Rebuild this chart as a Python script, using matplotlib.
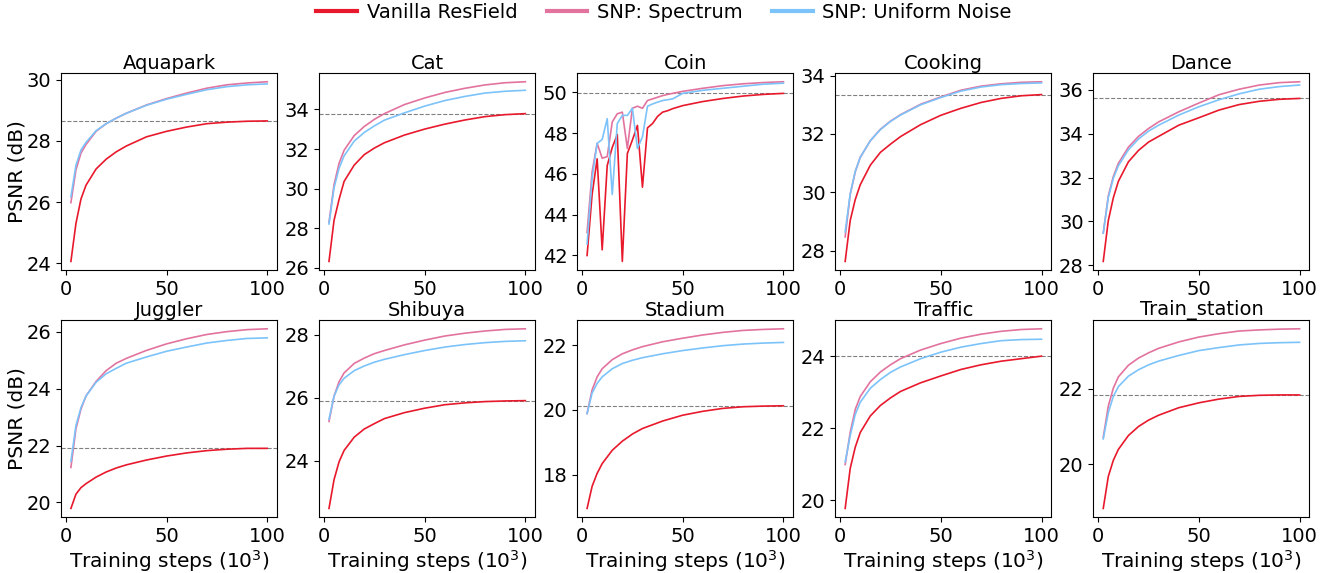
import matplotlib
matplotlib.use("Agg")
import matplotlib.pyplot as plt
from matplotlib.lines import Line2D

############
# Data (PSNR in dB)

steps = [2.5, 5, 7.5, 10, 15, 20, 25, 30, 40, 50, 60, 70, 80, 90, 100]
coin_steps = [2.5, 5, 7.5, 10, 12.5, 15, 17.5, 20, 22.5, 25, 27.5, 30, 32.5, 35,
              37.5, 40, 42.5, 45, 50, 60, 70, 80, 90, 100]

scenes = ["Aquapark", "Cat", "Coin", "Cooking", "Dance",
          "Juggler", "Shibuya", "Stadium", "Traffic", "Train_station"]
labels = ["Vanilla ResField", "SNP: Spectrum", "SNP: Uniform Noise"]
colors = ["#e8192c", "#e2739f", "#7cc3fa"]

aquapark_van = [24.06, 25.3, 26.1, 26.55, 27.08, 27.4, 27.64, 27.83, 28.13, 28.31, 28.45, 28.56, 28.61, 28.64, 28.65]
aquapark_spec = [25.98, 27.05, 27.6, 27.88, 28.31, 28.56, 28.74, 28.9, 29.17, 29.38, 29.56, 29.72, 29.83, 29.89, 29.93]
aquapark_unif = [26.17, 27.2, 27.7, 27.95, 28.33, 28.56, 28.74, 28.9, 29.16, 29.36, 29.52, 29.67, 29.77, 29.83, 29.86]

cat_van = [26.33, 28.4, 29.46, 30.37, 31.19, 31.72, 32.05, 32.32, 32.71, 33.01, 33.26, 33.47, 33.64, 33.74, 33.79]
cat_spec = [28.3, 30.2, 31.28, 31.94, 32.68, 33.14, 33.5, 33.79, 34.25, 34.58, 34.86, 35.07, 35.24, 35.35, 35.4]
cat_unif = [28.22, 30.04, 31.03, 31.66, 32.4, 32.84, 33.17, 33.46, 33.83, 34.17, 34.45, 34.66, 34.83, 34.92, 34.97]

coin_van = [42.0, 45.0, 46.74, 42.28, 46.41, 47.3, 47.93, 41.71, 47.0, 47.66, 48.38, 45.35,
            48.26, 48.47, 48.82, 49.03, 49.1, 49.2, 49.35, 49.55, 49.7, 49.82, 49.9, 49.95]
coin_spec = [43.13, 46.1, 47.5, 46.77, 46.85, 48.55, 48.95, 49.03, 47.25, 49.22, 49.32, 49.22,
             49.6, 49.68, 49.76, 49.84, 49.9, 49.95, 50.05, 50.2, 50.33, 50.42, 50.48, 50.52]
coin_unif = [42.57, 45.8, 47.5, 47.69, 48.71, 44.99, 48.47, 48.87, 48.87, 49.22, 47.25, 47.82,
             49.32, 49.43, 49.52, 49.6, 49.64, 49.68, 49.95, 50.1, 50.2, 50.3, 50.4, 50.45]

cooking_van = [27.63, 29.03, 29.75, 30.26, 30.93, 31.37, 31.65, 31.91, 32.32, 32.64, 32.88, 33.08, 33.22, 33.31, 33.35]
cooking_spec = [28.47, 29.92, 30.7, 31.2, 31.77, 32.16, 32.44, 32.66, 33.02, 33.27, 33.5, 33.64, 33.72, 33.77, 33.79]
cooking_unif = [28.64, 29.95, 30.72, 31.2, 31.77, 32.15, 32.43, 32.65, 33.0, 33.25, 33.47, 33.61, 33.69, 33.73, 33.75]

dance_van = [28.18, 30.04, 31.08, 31.83, 32.72, 33.24, 33.62, 33.88, 34.39, 34.73, 35.08, 35.33, 35.48, 35.57, 35.61]
dance_spec = [29.47, 31.16, 32.05, 32.65, 33.39, 33.88, 34.24, 34.54, 35.0, 35.4, 35.78, 36.03, 36.22, 36.33, 36.37]
dance_unif = [29.47, 31.08, 31.97, 32.54, 33.27, 33.76, 34.12, 34.39, 34.85, 35.23, 35.55, 35.82, 36.03, 36.15, 36.22]

juggler_van = [19.79, 20.29, 20.52, 20.66, 20.89, 21.07, 21.21, 21.32, 21.49, 21.63, 21.74, 21.82, 21.87, 21.9, 21.9]
juggler_spec = [21.23, 22.59, 23.28, 23.74, 24.25, 24.63, 24.89, 25.06, 25.34, 25.57, 25.75, 25.9, 26.0, 26.07, 26.1]
juggler_unif = [21.44, 22.7, 23.33, 23.74, 24.22, 24.52, 24.71, 24.89, 25.11, 25.31, 25.46, 25.6, 25.69, 25.76, 25.78]

shibuya_van = [22.49, 23.4, 23.97, 24.33, 24.75, 25.01, 25.18, 25.34, 25.53, 25.67, 25.78, 25.84, 25.88, 25.9, 25.91]
shibuya_spec = [25.25, 26.05, 26.51, 26.79, 27.09, 27.26, 27.4, 27.5, 27.68, 27.83, 27.96, 28.05, 28.12, 28.17, 28.19]
shibuya_unif = [25.32, 26.05, 26.41, 26.62, 26.86, 27.01, 27.13, 27.22, 27.37, 27.5, 27.61, 27.69, 27.75, 27.79, 27.81]

stadium_van = [16.97, 17.65, 18.05, 18.35, 18.76, 19.04, 19.26, 19.43, 19.66, 19.84, 19.96, 20.05, 20.1, 20.12, 20.13]
stadium_spec = [19.89, 20.62, 21.02, 21.27, 21.55, 21.73, 21.85, 21.95, 22.1, 22.21, 22.31, 22.39, 22.45, 22.48, 22.5]
stadium_unif = [19.89, 20.52, 20.82, 21.02, 21.27, 21.43, 21.53, 21.61, 21.73, 21.83, 21.91, 21.98, 22.03, 22.06, 22.08]

traffic_van = [19.77, 20.88, 21.47, 21.88, 22.34, 22.63, 22.84, 23.02, 23.26, 23.45, 23.63, 23.76, 23.86, 23.93, 24.0]
traffic_spec = [20.99, 21.88, 22.52, 22.88, 23.29, 23.56, 23.76, 23.93, 24.17, 24.35, 24.5, 24.61, 24.69, 24.74, 24.76]
traffic_unif = [21.06, 21.79, 22.38, 22.72, 23.11, 23.35, 23.55, 23.7, 23.93, 24.11, 24.25, 24.35, 24.43, 24.46, 24.47]

train_van = [18.82, 19.67, 20.1, 20.39, 20.76, 21.0, 21.17, 21.3, 21.5, 21.63, 21.73, 21.8, 21.83, 21.84, 21.84]
train_spec = [20.71, 21.54, 22.02, 22.32, 22.63, 22.82, 22.96, 23.08, 23.25, 23.38, 23.47, 23.54, 23.57, 23.59, 23.6]
train_unif = [20.67, 21.37, 21.8, 22.06, 22.34, 22.51, 22.64, 22.74, 22.89, 23.02, 23.1, 23.17, 23.21, 23.23, 23.24]

curves = [
    (steps, aquapark_van, aquapark_spec, aquapark_unif),
    (steps, cat_van, cat_spec, cat_unif),
    (coin_steps, coin_van, coin_spec, coin_unif),
    (steps, cooking_van, cooking_spec, cooking_unif),
    (steps, dance_van, dance_spec, dance_unif),
    (steps, juggler_van, juggler_spec, juggler_unif),
    (steps, shibuya_van, shibuya_spec, shibuya_unif),
    (steps, stadium_van, stadium_spec, stadium_unif),
    (steps, traffic_van, traffic_spec, traffic_unif),
    (steps, train_van, train_spec, train_unif),
]

############
# 2x5 grid of training curves

plt.rcParams["font.family"] = "DejaVu Sans"
fs = 14

fig, axes = plt.subplots(2, 5, figsize=(13.28, 5.73), dpi=100)
fig.subplots_adjust(left=0.046, right=0.986, top=0.873, bottom=0.097,
                    wspace=0.195, hspace=0.25)

for n, ax in enumerate(axes.flat):
    x, van, spec, unif = curves[n]
    ax.axhline(van[-1], color="gray", lw=0.8, ls="--", zorder=1)
    for ys, c in zip((van, spec, unif), colors):
        ax.plot(x, ys, color=c, lw=1.2)
    ax.set_title(scenes[n], fontsize=fs, pad=3)
    ax.set_xticks([0, 50, 100])
    ax.tick_params(labelsize=fs)
    if n >= 5:
        ax.set_xlabel("Training steps ($10^3$)", fontsize=fs + 0.5, labelpad=1.5)
    if n % 5 == 0:
        ax.set_ylabel("PSNR (dB)", fontsize=fs + 0.5, labelpad=0)

handles = [Line2D([], [], color=c, lw=3) for c in colors]
fig.legend(handles, labels, loc="upper center", ncol=3, frameon=False,
           fontsize=14, bbox_to_anchor=(0.5, 1.025), columnspacing=1.5,
           handlelength=2.1, handletextpad=0.5)

fig.savefig("out.png", dpi=100)
